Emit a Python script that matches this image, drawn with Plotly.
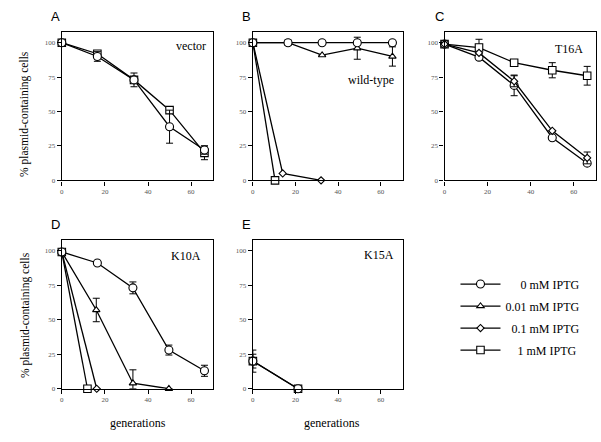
import plotly.graph_objects as go

# ---------------- data ----------------
names = ["0 mM IPTG", "0.01 mM IPTG", "0.1 mM IPTG", "1 mM IPTG"]
legend_text = ["\u00a0\u00a0\u00a0\u00a0\u00a00 mM IPTG", "0.01 mM IPTG", "\u00a0\u00a00.1 mM IPTG", "\u00a0\u00a0\u00a0\u00a01 mM IPTG"]
y_ticks = [0, 25, 50, 75, 100]
x_ticks = [0, 20, 40, 60]

# A: vector
A_x = [0, 16.5, 33.5, 50, 66.2]
A_circle = [100, 90, 73, 39, 22]
A_circle_err = [None, 3.5, None, 12, 3]
A_square = [100, 92, 73, 51, 20]
A_square_err = [None, 2, 5, 1, 5]

# B: wild-type
B_x = [0, 16.5, 32.5, 49, 65.5]
B_circle = [100, 100, 100, 100, 100]
B_circle_err = [None, None, None, None, None]
B_triangle = [100, 100, 91, 96, 90]
B_triangle_err = [None, 2, None, 8, 7]
B_diamond_x = [0, 14, 32]
B_diamond = [100, 5, 0]
B_square_x = [0, 10.4]
B_square = [100, 0]

# C: T16A
C_x = [0, 16, 32.3, 50, 66.2]
C_circle = [99, 89.5, 69, 31, 12.5]
C_circle_err = [None, None, 7.5, None, None]
C_diamond = [99, 92.6, 72, 36, 16.3]
C_diamond_err = [None, None, 4, None, 4.3]
C_square = [99, 96.5, 85.5, 80, 76]
C_square_err = [None, 6, None, 5.5, 6.8]

# D: K10A
D_circle_x = [0, 16.5, 33, 49.7, 66.2]
D_circle = [99, 91, 73, 28, 13]
D_circle_err = [None, None, 4.3, 3.6, 4]
D_triangle_x = [0, 16, 33, 49.7]
D_triangle = [99, 57, 4, 0]
D_triangle_err_up = [None, 8.5, 9.7, None]
D_triangle_err_dn = [None, 8.5, 4, None]
D_diamond_x = [0, 16.2]
D_diamond = [99, 0]
D_square_x = [0, 11.9]
D_square = [99, 0]

# E: K15A
E_x = [0, 21.2]
E_circle = [20, 0]
E_circle_err = [5, None]
E_square = [20, 0]
E_square_err = [8, None]

# ---------------- style ----------------
W, H = 601, 442
def px(x):
    return x / W
def py(y):
    return 1 - y / H

symbols = {0: "circle", 1: "triangle-up", 2: "diamond", 3: "square"}
sizes = {0: 8, 1: 6.5, 2: 5.5, 3: 7.5}

fig = go.Figure()
shown = set()

def add(idx, xs, ys, axis, err=None, err_dn=None):
    showleg = idx not in shown
    shown.add(idx)
    ey = None
    if err is not None:
        ey = dict(type="data", array=err, symmetric=err_dn is None,
                  color="black", thickness=1, width=3.5)
        if err_dn is not None:
            ey["arrayminus"] = err_dn
    fig.add_trace(go.Scatter(
        x=xs, y=ys, mode="lines+markers",
        name=legend_text[idx], legendgroup=names[idx], legendrank=idx + 1,
        showlegend=showleg,
        xaxis="x" + axis, yaxis="y" + axis,
        line=dict(color="black", width=1.3),
        marker=dict(symbol=symbols[idx], size=sizes[idx], color="white",
                    line=dict(color="black", width=1.1)),
        error_y=ey, cliponaxis=False,
    ))

# Panel A
add(3, A_x, A_square, "", A_square_err)
add(0, A_x, A_circle, "", A_circle_err)
# Panel B
add(1, B_x, B_triangle, "2", B_triangle_err)
add(2, B_diamond_x, B_diamond, "2")
add(3, B_square_x, B_square, "2")
add(0, B_x, B_circle, "2", B_circle_err)
# Panel C
add(3, C_x, C_square, "3", C_square_err)
add(0, C_x, C_circle, "3", C_circle_err)
add(2, C_x, C_diamond, "3", C_diamond_err)
# Panel D
add(3, D_square_x, D_square, "4")
add(2, D_diamond_x, D_diamond, "4")
add(1, D_triangle_x, D_triangle, "4", D_triangle_err_up, D_triangle_err_dn)
add(0, D_circle_x, D_circle, "4", D_circle_err)
# Panel E
add(3, E_x, E_square, "5", E_square_err)
add(0, E_x, E_circle, "5", E_circle_err)

axis_common = dict(showline=True, linecolor="black", linewidth=1.3, mirror=True,
                   ticks="outside", ticklen=4, tickwidth=1, tickcolor="black",
                   showgrid=False, zeroline=False,
                   tickfont=dict(family="Liberation Serif", size=7, color="#555555"))

xdom = {"": (60, 212), "2": (251.7, 402), "3": (444, 596), "4": (60, 212), "5": (251.7, 402)}
ydom = {"": (32, 182), "2": (32, 182), "3": (32, 182), "4": (241.7, 392.3), "5": (241.7, 392.3)}

layout = dict(
    width=W, height=H, margin=dict(l=0, r=0, t=0, b=0),
    paper_bgcolor="white", plot_bgcolor="white",
    font=dict(family="Liberation Serif", color="black"),
    legend=dict(x=px(455), y=py(272), xanchor="left", yanchor="top",
                font=dict(family="Liberation Serif", size=12, color="black"),
                tracegroupgap=3, itemwidth=40, bgcolor="rgba(0,0,0,0)"),
)
for k in xdom:
    x0, x1 = xdom[k]
    y0, y1 = ydom[k]
    layout["xaxis" + k] = dict(axis_common, domain=[px(x0), px(x1)], range=[0, 70.3],
                               tickvals=x_ticks, anchor="y" + k)
    layout["yaxis" + k] = dict(axis_common, domain=[py(y1), py(y0)], range=[0, 108],
                               tickvals=y_ticks, anchor="x" + k)
fig.update_layout(**layout)

def note(text, x, y, size, family="Liberation Serif", xa="center", angle=0):
    return dict(text=text, x=px(x), y=py(y), xref="paper", yref="paper",
                xanchor=xa, yanchor="middle", showarrow=False, textangle=angle,
                font=dict(family=family, size=size, color="black"))

ann = []
for letter, (x, y) in zip("ABCDE", [(54, 17), (245.7, 17), (439, 17), (54, 227), (245.7, 227)]):
    ann.append(note(letter, x, y, 13, family="Liberation Sans"))
for y in (115, 318):
    ann.append(note("% plasmid-containing cells", 23, y, 11.5, angle=-90))
for x in (136, 331):
    ann.append(note("generations", x, 427, 12))
labels = [("vector", 207, 46.7, "right"), ("wild-type", 370, 81, "center"),
          ("T16A", 585, 49, "right"), ("K10A", 202, 258, "right"), ("K15A", 395, 257, "right")]
for t, x, y, xa in labels:
    ann.append(note(t, x, y, 12, xa=xa))
fig.update_layout(annotations=ann)

fig.write_html("out.html", config={"displayModeBar": False},
               post_script="document.body.style.margin='0';")
